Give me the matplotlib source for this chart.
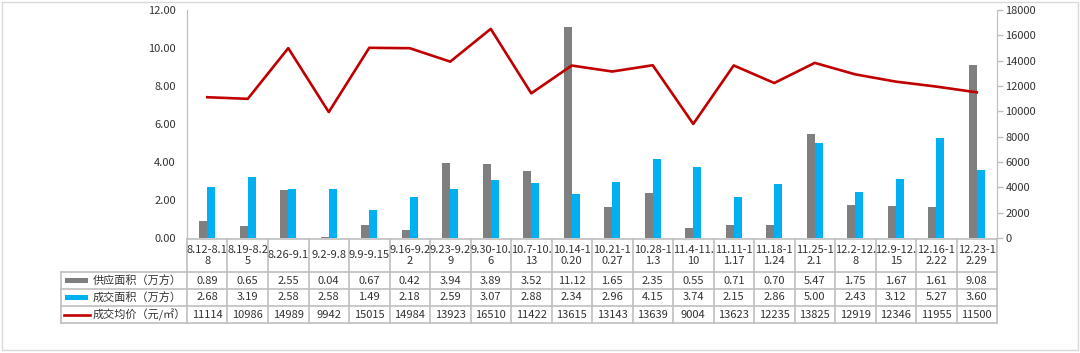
import matplotlib
matplotlib.use("Agg")
import matplotlib.pyplot as plt
from matplotlib.transforms import blended_transform_factory
from matplotlib.lines import Line2D
from matplotlib.patches import Rectangle

plt.rcParams['font.family'] = ['Noto Sans CJK SC', 'DejaVu Sans']

categories = ["8.12-8.1\n8", "8.19-8.2\n5", "8.26-9.1", "9.2-9.8", "9.9-9.15",
              "9.16-9.2\n2", "9.23-9.2\n9", "9.30-10.\n6", "10.7-10.\n13",
              "10.14-1\n0.20", "10.21-1\n0.27", "10.28-1\n1.3", "11.4-11.\n10",
              "11.11-1\n1.17", "11.18-1\n1.24", "11.25-1\n2.1", "12.2-12.\n8",
              "12.9-12.\n15", "12.16-1\n2.22", "12.23-1\n2.29"]
supply = [0.89, 0.65, 2.55, 0.04, 0.67, 0.42, 3.94, 3.89, 3.52, 11.12, 1.65,
          2.35, 0.55, 0.71, 0.70, 5.47, 1.75, 1.67, 1.61, 9.08]
deal = [2.68, 3.19, 2.58, 2.58, 1.49, 2.18, 2.59, 3.07, 2.88, 2.34, 2.96,
        4.15, 3.74, 2.15, 2.86, 5.00, 2.43, 3.12, 5.27, 3.60]
price = [11114, 10986, 14989, 9942, 15015, 14984, 13923, 16510, 11422, 13615,
         13143, 13639, 9004, 13623, 12235, 13825, 12919, 12346, 11955, 11500]
series_names = ["供应面积（万方）", "成交面积（万方）", "成交均价（元/㎡）"]
left_ticks = [0, 2, 4, 6, 8, 10, 12]
right_ticks = list(range(0, 18001, 2000))

GRAY = "#7F7F7F"
BLUE = "#00B0F0"
RED = "#C00000"
GRID = "#BFBFBF"
TXT = "#333333"
FS = 8

W, H = 1080, 353
fig = plt.figure(figsize=(W / 100, H / 100), dpi=100)

def fy(px):
    return 1 - px / H

def fx(px):
    return px / W

left_px, right_px, top_px, bot_px = 187, 997, 10, 238
ax = fig.add_axes([fx(left_px), fy(bot_px), fx(right_px - left_px), (bot_px - top_px) / H])
ax2 = ax.twinx()

n = len(categories)
x = list(range(n))
bw = 0.2
ax.bar([i - bw / 2 for i in x], supply, width=bw, color=GRAY, zorder=2)
ax.bar([i + bw / 2 for i in x], deal, width=bw, color=BLUE, zorder=2)
ax2.plot(x, price, color=RED, lw=1.9, zorder=3)

ax.set_xlim(-0.5, n - 0.5)
ax.set_ylim(0, 12)
ax.set_yticks(left_ticks)
ax.set_yticklabels([f"{v:.2f}" for v in left_ticks], fontsize=FS, color=TXT)
ax.tick_params(axis='y', length=0, pad=8)
ax.set_xticks([])
ax2.set_ylim(0, 18000)
ax2.set_yticks(right_ticks)
ax2.set_yticklabels([str(v) for v in right_ticks], fontsize=FS, color=TXT)
ax2.tick_params(axis='y', length=4, color=GRID, pad=2, width=1)
for a in (ax, ax2):
    a.spines['top'].set_visible(False)
    a.spines['bottom'].set_visible(False)
    a.spines['left'].set_color(GRID)
    a.spines['right'].set_color(GRID)
    a.patch.set_visible(False)

# table
bt = blended_transform_factory(ax.transData, fig.transFigure)
rows_px = [239, 272, 289, 306, 323]
lw = 1.2
# horizontal lines across data columns
for r in rows_px:
    fig.add_artist(Line2D([-0.5, n - 0.5], [fy(r), fy(r)], transform=bt, color=GRID, lw=lw))
# legend column horizontal lines
tab_left = fx(61)
for r in rows_px[1:]:
    fig.add_artist(Line2D([tab_left, fx(left_px)], [fy(r), fy(r)], transform=fig.transFigure, color=GRID, lw=lw))
# verticals
for i in range(n + 1):
    fig.add_artist(Line2D([i - 0.5, i - 0.5], [fy(rows_px[0]), fy(rows_px[-1])], transform=bt, color=GRID, lw=lw))
fig.add_artist(Line2D([tab_left, tab_left], [fy(rows_px[1]), fy(rows_px[-1])], transform=fig.transFigure, color=GRID, lw=lw))

# category labels
for i, c in enumerate(categories):
    fig.text(i, fy((rows_px[0] + rows_px[1]) / 2), c, transform=bt, ha='center', va='center',
             fontsize=FS, color=TXT, linespacing=1.2)

# data rows
row_vals = [[f"{v:.2f}" for v in supply], [f"{v:.2f}" for v in deal], [str(v) for v in price]]
for k in range(3):
    yc = fy((rows_px[k + 1] + rows_px[k + 2]) / 2)
    for i, s in enumerate(row_vals[k]):
        fig.text(i, yc, s, transform=bt, ha='center', va='center', fontsize=FS, color=TXT)
    # legend key
    if k < 2:
        fig.add_artist(Rectangle((fx(65), yc - 2.5 / H), fx(23), 5 / H, transform=fig.transFigure,
                                 color=[GRAY, BLUE][k], lw=0))
    else:
        fig.add_artist(Line2D([fx(64), fx(90)], [yc, yc], transform=fig.transFigure, color=RED, lw=1.9))
    fig.text(fx(93), yc, series_names[k], ha='left', va='center', fontsize=FS, color=TXT)

# outer frame
fig.add_artist(Rectangle((fx(2), fy(350)), fx(1076), 348 / H, transform=fig.transFigure,
                         fill=False, edgecolor="#D9D9D9", lw=1))

fig.savefig("out.png", dpi=100)
